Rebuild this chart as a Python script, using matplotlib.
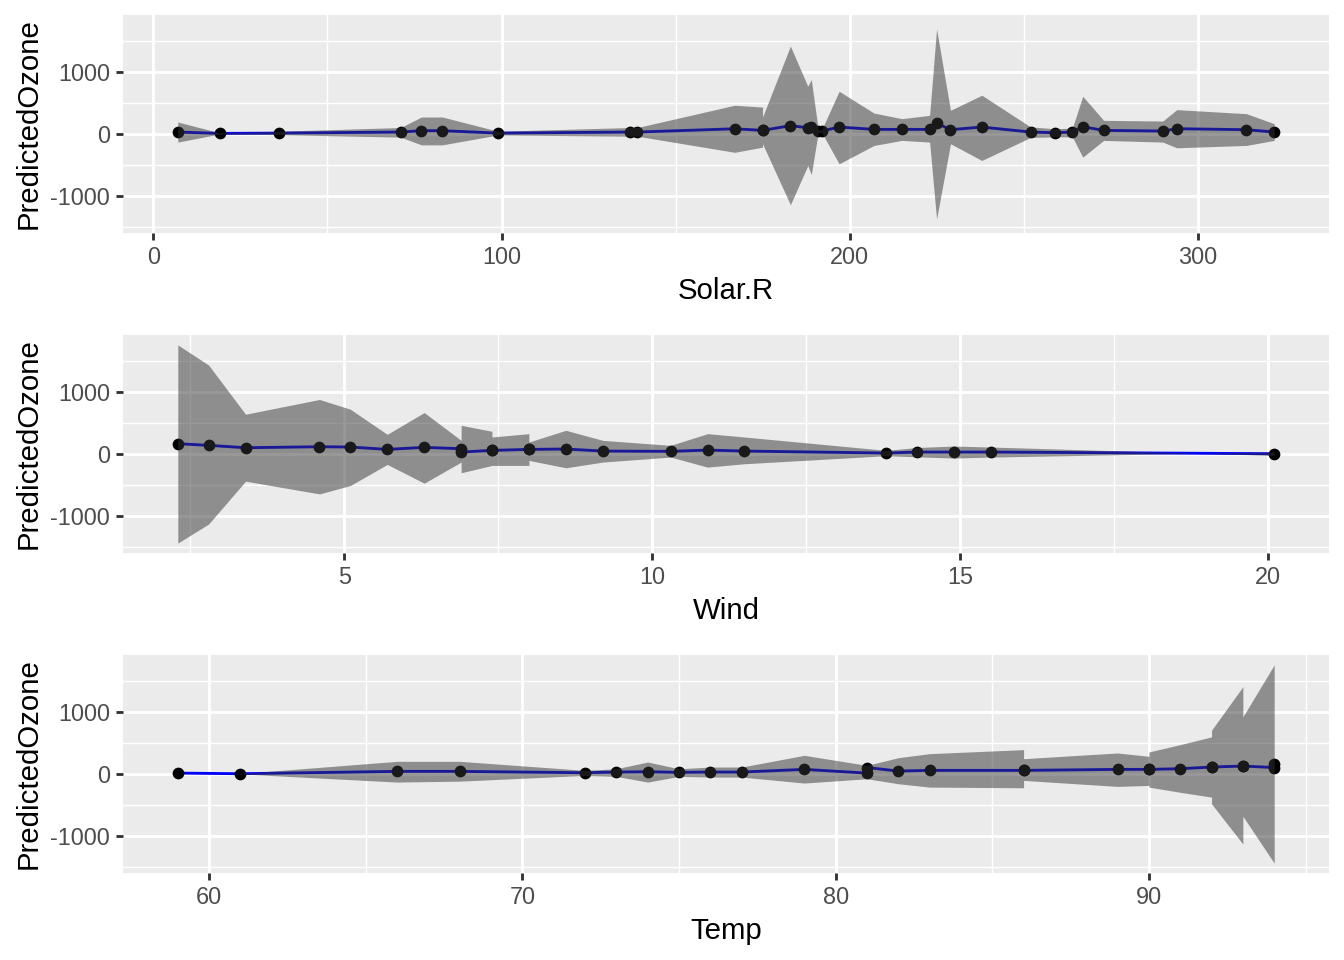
import matplotlib
matplotlib.use("Agg")
import matplotlib.pyplot as plt
from matplotlib.ticker import FixedLocator

plt.rcParams["font.family"] = ["Liberation Sans", "DejaVu Sans"]

# ---- Solar.R panel
solar_x = [7, 19, 36, 71, 77, 83, 99, 137, 139, 167, 175, 175, 183, 188, 189,
           191, 192, 197, 207, 215, 223, 225, 229, 238, 252, 259, 264, 267,
           273, 290, 294, 314, 322]
solar_y = [27, 5, 10, 27, 49, 49, 10, 27, 27, 80, 54, 54, 130, 97, 108, 43,
           43, 108, 70, 70, 70, 173, 65, 108, 27, 16, 27, 113, 54, 43, 81, 65,
           27]
solar_lo = [-135, -5, -15, -55, -180, -180, -20, -40, -40, -300, -217, -162,
            -1146, -514, -660, 20, 20, -486, -190, -108, -135, -1378, -162,
            -432, -60, -50, -50, -378, -108, -135, -227, -189, -108]
solar_hi = [189, 15, 40, 100, 270, 270, 40, 100, 100, 460, 431, 270, 1415,
            767, 875, 65, 65, 686, 334, 243, 297, 1692, 378, 622, 110, 80, 90,
            605, 216, 205, 389, 324, 162]

# ---- Wind panel
wind_x = [2.3, 2.8, 3.4, 4.6, 5.1, 5.7, 6.3, 6.9, 6.9, 7.4, 7.4, 8.0, 8.0,
          8.6, 9.2, 10.3, 10.9, 11.5, 13.8, 14.3, 14.9, 15.5, 20.1]
wind_y = [162, 135, 97, 113, 108, 70, 103, 81, 27, 54, 54, 70, 70, 76, 43,
          38, 59, 43, 11, 27, 27, 27, 0]
wind_lo = [-1443, -1135, -443, -649, -514, -173, -476, -135, -308, -189,
           -189, -189, -108, -227, -135, -54, -216, -162, -32, -50, -70, -54,
           29]
wind_hi = [1757, 1432, 638, 876, 719, 313, 665, 216, 459, 362, 270, 324, 189,
           378, 216, 135, 324, 270, 54, 100, 124, 108, -28]

# ---- Temp panel
temp_x = [59, 61, 66, 68, 72, 73, 74, 75, 76, 77, 79, 81, 81, 82, 83, 86, 86,
          89, 90, 90, 91, 92, 92, 93, 93, 94, 94]
temp_y = [10, 0, 38, 38, 16, 27, 32, 22, 27, 27, 70, 10, 100, 43, 54, 54, 54,
          70, 70, 70, 81, 108, 108, 124, 124, 100, 160]
temp_lo = [10, -3, -135, -120, -27, -43, -135, -43, -54, -54, -151, -81, -81,
           -162, -216, -227, -108, -205, -189, -216, -300, -378, -486, -1135,
           -686, -1443, -1443]
temp_hi = [10, 3, 200, 200, 54, 81, 189, 80, 108, 108, 297, 135, 135, 259,
           324, 389, 243, 335, 281, 351, 470, 595, 703, 1405, 919, 1757, 1757]

panels = [
    ("Solar.R", solar_x, solar_y, solar_lo, solar_hi,
     [0, 100, 200, 300], [50, 150, 250]),
    ("Wind", wind_x, wind_y, wind_lo, wind_hi,
     [5, 10, 15, 20], [2.5, 7.5, 12.5, 17.5]),
    ("Temp", temp_x, temp_y, temp_lo, temp_hi,
     [60, 70, 80, 90], [65, 75, 85, 95]),
]

y_major = [-1000, 0, 1000]
y_minor = [-1500, -500, 500, 1500]
y_lim = (-1603, 1917)

W, H = 1344, 960
fig = plt.figure(figsize=(7, 5), dpi=192)
fig.patch.set_facecolor("white")

left, right = 123 / W, 1329 / W
tops = [15, 335, 655]
ph = 218

for top, (name, x, y, lo, hi, xmaj, xmin) in zip(tops, panels):
    ax = fig.add_axes([left, 1 - (top + ph) / H, right - left, ph / H])
    ax.set_facecolor("#EBEBEB")

    span = max(x) - min(x)
    ax.set_xlim(min(x) - 0.05 * span, max(x) + 0.05 * span)
    ax.set_ylim(*y_lim)

    ax.xaxis.set_major_locator(FixedLocator(xmaj))
    ax.xaxis.set_minor_locator(FixedLocator(xmin))
    ax.yaxis.set_major_locator(FixedLocator(y_major))
    ax.yaxis.set_minor_locator(FixedLocator(y_minor))
    ax.set_xticklabels([str(v) for v in xmaj])
    ax.set_yticklabels([str(v) for v in y_major])

    ax.grid(which="major", color="white", lw=1.07, zorder=0)
    ax.grid(which="minor", color="white", lw=0.53, zorder=0)
    ax.set_axisbelow(True)

    # line and points sit under the translucent ribbon, as in the original
    ax.plot(x, y, color="#0000FF", lw=1.07, zorder=2)
    ax.plot(x, y, "o", color="black", ms=4.4, mew=0, zorder=3)
    ax.fill_between(x, lo, hi, color="#333333", alpha=0.5, lw=0, zorder=4)

    for s in ax.spines.values():
        s.set_visible(False)
    ax.tick_params(which="major", length=2.75, width=1.07, color="#333333",
                   labelcolor="#4D4D4D", labelsize=8.8, pad=2.2)
    ax.tick_params(which="minor", length=0)

    ax.set_xlabel(name, fontsize=11, color="black", labelpad=2.75)
    ax.set_ylabel("PredictedOzone", fontsize=11, color="black", labelpad=2.75)

fig.savefig("out.png", dpi=192, facecolor="white")
